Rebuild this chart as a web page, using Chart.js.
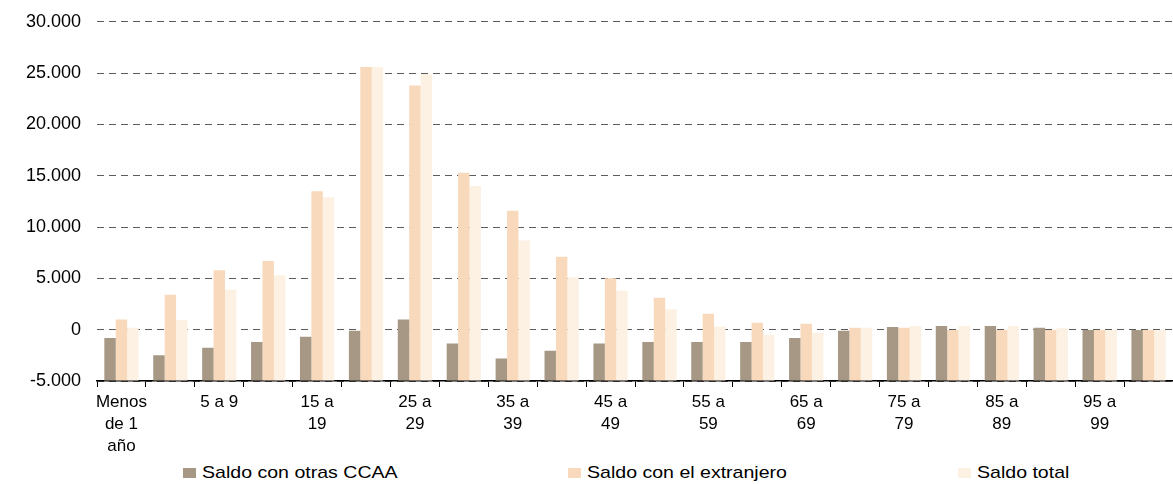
<!DOCTYPE html>
<html>
<head>
<meta charset="utf-8">
<script src="https://cdn.jsdelivr.net/npm/chart.js@4.4.1/dist/chart.umd.min.js"></script>
<style>
  html, body { margin: 0; padding: 0; background: #fff; }
  #wrap { position: relative; width: 1173px; height: 484px; overflow: hidden; }
  #chart-box { position: absolute; left: 0; top: -5px; width: 1173px; height: 465px; }
  #legend { position: absolute; left: 0; top: 462px; width: 1173px; height: 22px;
    font-family: 'Liberation Sans', Arial, sans-serif; font-size: 17px; color: #000; }
  .item { position: absolute; top: 0; white-space: nowrap; }
  .box { position: absolute; top: 6px; width: 13px; height: 10px; }
  .txt { position: absolute; left: 19px; top: 1px; display: inline-block;
    transform: scaleX(1.15); transform-origin: left center; }
</style>
</head>
<body>
<div id="wrap">
  <div id="chart-box"><canvas id="chart"></canvas></div>
  <div id="legend"></div>
</div>
<script>
  // grupos de edad
  const categories = ['Menos de 1 año', '1 a 4', '5 a 9', '10 a 14', '15 a 19', '20 a 24', '25 a 29',
    '30 a 34', '35 a 39', '40 a 44', '45 a 49', '50 a 54', '55 a 59', '60 a 64', '65 a 69',
    '70 a 74', '75 a 79', '80 a 84', '85 a 89', '90 a 94', '95 a 99', '100 y más'];

  // etiquetas visibles del eje X (una de cada dos)
  const tickLabels = [['Menos', 'de 1', 'año'], '', '5 a 9', '', ['15 a', '19'], '', ['25 a', '29'],
    '', ['35 a', '39'], '', ['45 a', '49'], '', ['55 a', '59'], '', ['65 a', '69'],
    '', ['75 a', '79'], '', ['85 a', '89'], '', ['95 a', '99'], ''];

  const saldoCCAA = [-800, -2500, -1750, -1200, -700, -100, 1000, -1350, -2800, -2050, -1350,
    -1200, -1200, -1200, -800, -100, 270, 350, 350, 180, -20, -30];
  const saldoExtranjero = [1000, 3400, 5800, 6700, 13500, 25600, 23800, 15300, 11600, 7100, 5000,
    3100, 1550, 680, 580, 180, 180, -20, -30, -30, -20, -20];
  const saldoTotal = [200, 950, 3900, 5300, 12900, 25600, 24900, 14000, 8700, 5100, 3800,
    2000, 300, -500, -300, 180, 350, 350, 350, 150, -30, -30];

  const yTicks = [-5000, 0, 5000, 10000, 15000, 20000, 25000, 30000];
  const yMin = -5000;
  const yMax = 30000;

  const seriesNames = ['Saldo con otras CCAA', 'Saldo con el extranjero', 'Saldo total'];
  const seriesColors = ['#a69885', '#f8d9bc', '#fcf1e3'];
  const legendLeft = [183, 568, 958];

  const FONT = "'Liberation Sans', Arial, sans-serif";

  function formatNum(v) {
    const s = String(Math.abs(v)).replace(/\B(?=(\d{3})+(?!\d))/g, '.');
    return v < 0 ? '-' + s : s;
  }

  const ctx = document.getElementById('chart').getContext('2d');
  const chart = new Chart(ctx, {
    type: 'bar',
    data: {
      labels: categories,
      datasets: [saldoCCAA, saldoExtranjero, saldoTotal].map((d, i) => ({
        label: seriesNames[i],
        data: d,
        base: yMin, // las barras parten del eje inferior, como en el original
        backgroundColor: seriesColors[i],
        borderWidth: 0,
        categoryPercentage: 0.7,
        barPercentage: 1.0
      }))
    },
    options: {
      responsive: true,
      maintainAspectRatio: false,
      animation: false,
      layout: { padding: { top: 10, right: 0, bottom: 0, left: 0 } },
      plugins: {
        legend: { display: false },
        tooltip: { enabled: false }
      },
      scales: {
        x: {
          grid: {
            offset: true,
            drawOnChartArea: false,
            drawTicks: true,
            tickLength: 6,
            color: '#000'
          },
          border: { display: true, color: '#000', width: 1.5 },
          ticks: {
            autoSkip: false,
            maxRotation: 0,
            minRotation: 0,
            padding: 4,
            color: '#000',
            font: { family: FONT, size: 17, lineHeight: 1.3 },
            callback: function(value, index) { return tickLabels[index]; }
          },
          afterFit: function(scale) { scale.height = 79; }
        },
        y: {
          min: yMin,
          max: yMax,
          afterBuildTicks: function(scale) {
            scale.ticks = yTicks.map(v => ({ value: v }));
          },
          grid: {
            color: '#5a5a5a',
            lineWidth: 1,
            drawTicks: false
          },
          border: { display: false, dash: [7, 5] },
          ticks: {
            padding: 16,
            color: '#000',
            font: { family: FONT, size: 18 },
            callback: function(value) { return formatNum(value); }
          },
          afterFit: function(scale) { scale.width = 97; }
        }
      }
    }
  });

  // leyenda en HTML
  const legendEl = document.getElementById('legend');
  seriesNames.forEach((name, i) => {
    const item = document.createElement('div');
    item.className = 'item';
    item.style.left = legendLeft[i] + 'px';
    item.innerHTML = '<span class="box" style="background:' + seriesColors[i] + '"></span>' +
      '<span class="txt">' + name + '</span>';
    legendEl.appendChild(item);
  });
</script>
</body>
</html>
